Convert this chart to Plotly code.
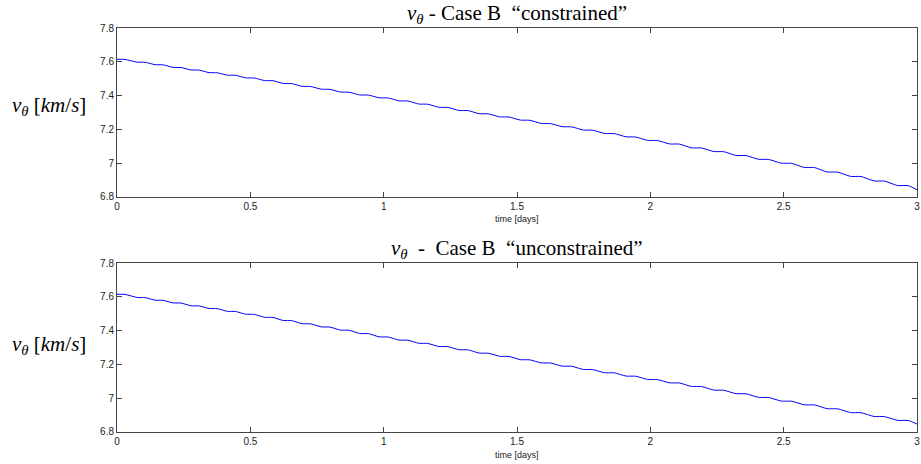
import plotly.graph_objects as go
from plotly.subplots import make_subplots

# time samples [days]
t_days = [0.000, 0.030, 0.076, 0.106, 0.143, 0.173, 0.210, 0.240, 0.277, 0.308,
          0.345, 0.376, 0.414, 0.445, 0.483, 0.515, 0.553, 0.585, 0.623, 0.655,
          0.694, 0.726, 0.766, 0.798, 0.838, 0.870, 0.910, 0.943, 0.983, 1.017,
          1.057, 1.091, 1.132, 1.165, 1.207, 1.241, 1.282, 1.317, 1.358, 1.393,
          1.435, 1.470, 1.513, 1.548, 1.591, 1.626, 1.669, 1.705, 1.749, 1.784,
          1.828, 1.865, 1.909, 1.945, 1.990, 2.027, 2.072, 2.109, 2.154, 2.192,
          2.238, 2.275, 2.321, 2.359, 2.406, 2.444, 2.491, 2.530, 2.577, 2.616,
          2.663, 2.703, 2.751, 2.790, 2.839, 2.878, 2.927, 2.967, 3.000]

# v_theta [km/s], Case B constrained
v_constrained = [7.615, 7.614, 7.598, 7.597, 7.583, 7.582, 7.567, 7.566, 7.552, 7.551,
                 7.536, 7.535, 7.521, 7.520, 7.505, 7.504, 7.489, 7.488, 7.472, 7.471,
                 7.455, 7.454, 7.438, 7.437, 7.421, 7.420, 7.404, 7.403, 7.387, 7.386,
                 7.369, 7.368, 7.350, 7.349, 7.331, 7.330, 7.312, 7.311, 7.293, 7.292,
                 7.274, 7.273, 7.255, 7.254, 7.235, 7.234, 7.216, 7.215, 7.196, 7.195,
                 7.176, 7.175, 7.156, 7.155, 7.135, 7.134, 7.114, 7.113, 7.091, 7.090,
                 7.069, 7.068, 7.046, 7.045, 7.023, 7.022, 7.000, 6.999, 6.975, 6.974,
                 6.948, 6.947, 6.922, 6.921, 6.895, 6.894, 6.868, 6.867, 6.843]

# v_theta [km/s], Case B unconstrained
v_unconstrained = [7.615, 7.614, 7.596, 7.595, 7.580, 7.579, 7.564, 7.563, 7.547, 7.546,
                   7.531, 7.530, 7.514, 7.513, 7.497, 7.496, 7.479, 7.478, 7.460, 7.459,
                   7.441, 7.440, 7.422, 7.421, 7.403, 7.402, 7.383, 7.382, 7.363, 7.362,
                   7.344, 7.343, 7.325, 7.324, 7.306, 7.305, 7.287, 7.286, 7.267, 7.266,
                   7.248, 7.247, 7.228, 7.227, 7.209, 7.208, 7.190, 7.189, 7.170, 7.169,
                   7.151, 7.150, 7.131, 7.130, 7.111, 7.110, 7.091, 7.090, 7.070, 7.069,
                   7.048, 7.047, 7.027, 7.026, 7.005, 7.004, 6.983, 6.982, 6.961, 6.960,
                   6.938, 6.937, 6.915, 6.914, 6.892, 6.891, 6.869, 6.868, 6.847]

x_ticks = [0, 0.5, 1, 1.5, 2, 2.5, 3]
x_ticklabels = ["0", "0.5", "1", "1.5", "2", "2.5", "3"]
y_ticks = [6.8, 7.0, 7.2, 7.4, 7.6, 7.8]
y_ticklabels = ["6.8", "7", "7.2", "7.4", "7.6", "7.8"]

titles = ["<i>v</i><sub><i>θ</i></sub> - Case B\u00a0 \u201cconstrained\u201d",
          "<i>v</i><sub><i>θ</i></sub> \u00a0-\u00a0 Case B\u00a0 \u201cunconstrained\u201d"]
ylabel = "<i>v</i><sub><i>θ</i></sub> [<i>km</i>/<i>s</i>]"
xlabel = "time [days]"

fig = make_subplots(rows=2, cols=1, vertical_spacing=0.1634)
for r, v in [(1, v_constrained), (2, v_unconstrained)]:
    fig.add_trace(go.Scatter(x=t_days, y=v, mode="lines",
                             line=dict(color="#0000ff", width=1, shape="spline", smoothing=0.6),
                             showlegend=False, hoverinfo="skip"), row=r, col=1)

axis_common = dict(showgrid=False, zeroline=False, showline=True, linecolor="#444",
                   linewidth=1, mirror="ticks", ticks="inside", ticklen=5,
                   tickcolor="#444", ticklabeloverflow="allow",
                   tickfont=dict(family="Liberation Sans", size=10, color="#222"))
for r in (1, 2):
    fig.update_xaxes(range=[0, 3], tickvals=x_ticks, ticktext=x_ticklabels, row=r, col=1,
                     **axis_common)
    fig.update_yaxes(range=[6.8, 7.8], tickvals=y_ticks, ticktext=y_ticklabels, row=r, col=1,
                     **axis_common)

fig.update_layout(width=921, height=464, margin=dict(l=117, r=1, t=28, b=32),
                  paper_bgcolor="white", plot_bgcolor="white")
fig.layout.yaxis.domain = [0.5817, 1.0]
fig.layout.yaxis2.domain = [0.0, 0.4183]

serif = "Liberation Serif"
ann = []
positions = [(1.0347, 0.807, 0.527), (0.453, 0.2153, -0.057)]
for i, (ty, ly, xy) in enumerate(positions):
    ann.append(dict(text=titles[i], x=0.5, y=ty, xref="paper", yref="paper",
                    xanchor="center", yanchor="middle", showarrow=False,
                    font=dict(family=serif, size=21, color="#000")))
    ann.append(dict(text=ylabel, x=-0.0847, y=ly, xref="paper", yref="paper",
                    xanchor="center", yanchor="middle", showarrow=False,
                    font=dict(family=serif, size=21, color="#000")))
    ann.append(dict(text=xlabel, x=0.5, y=xy, xref="paper", yref="paper",
                    xanchor="center", yanchor="middle", showarrow=False,
                    font=dict(family="Liberation Sans", size=9, color="#222")))
fig.update_layout(annotations=ann)

fig.write_html("out.html")
